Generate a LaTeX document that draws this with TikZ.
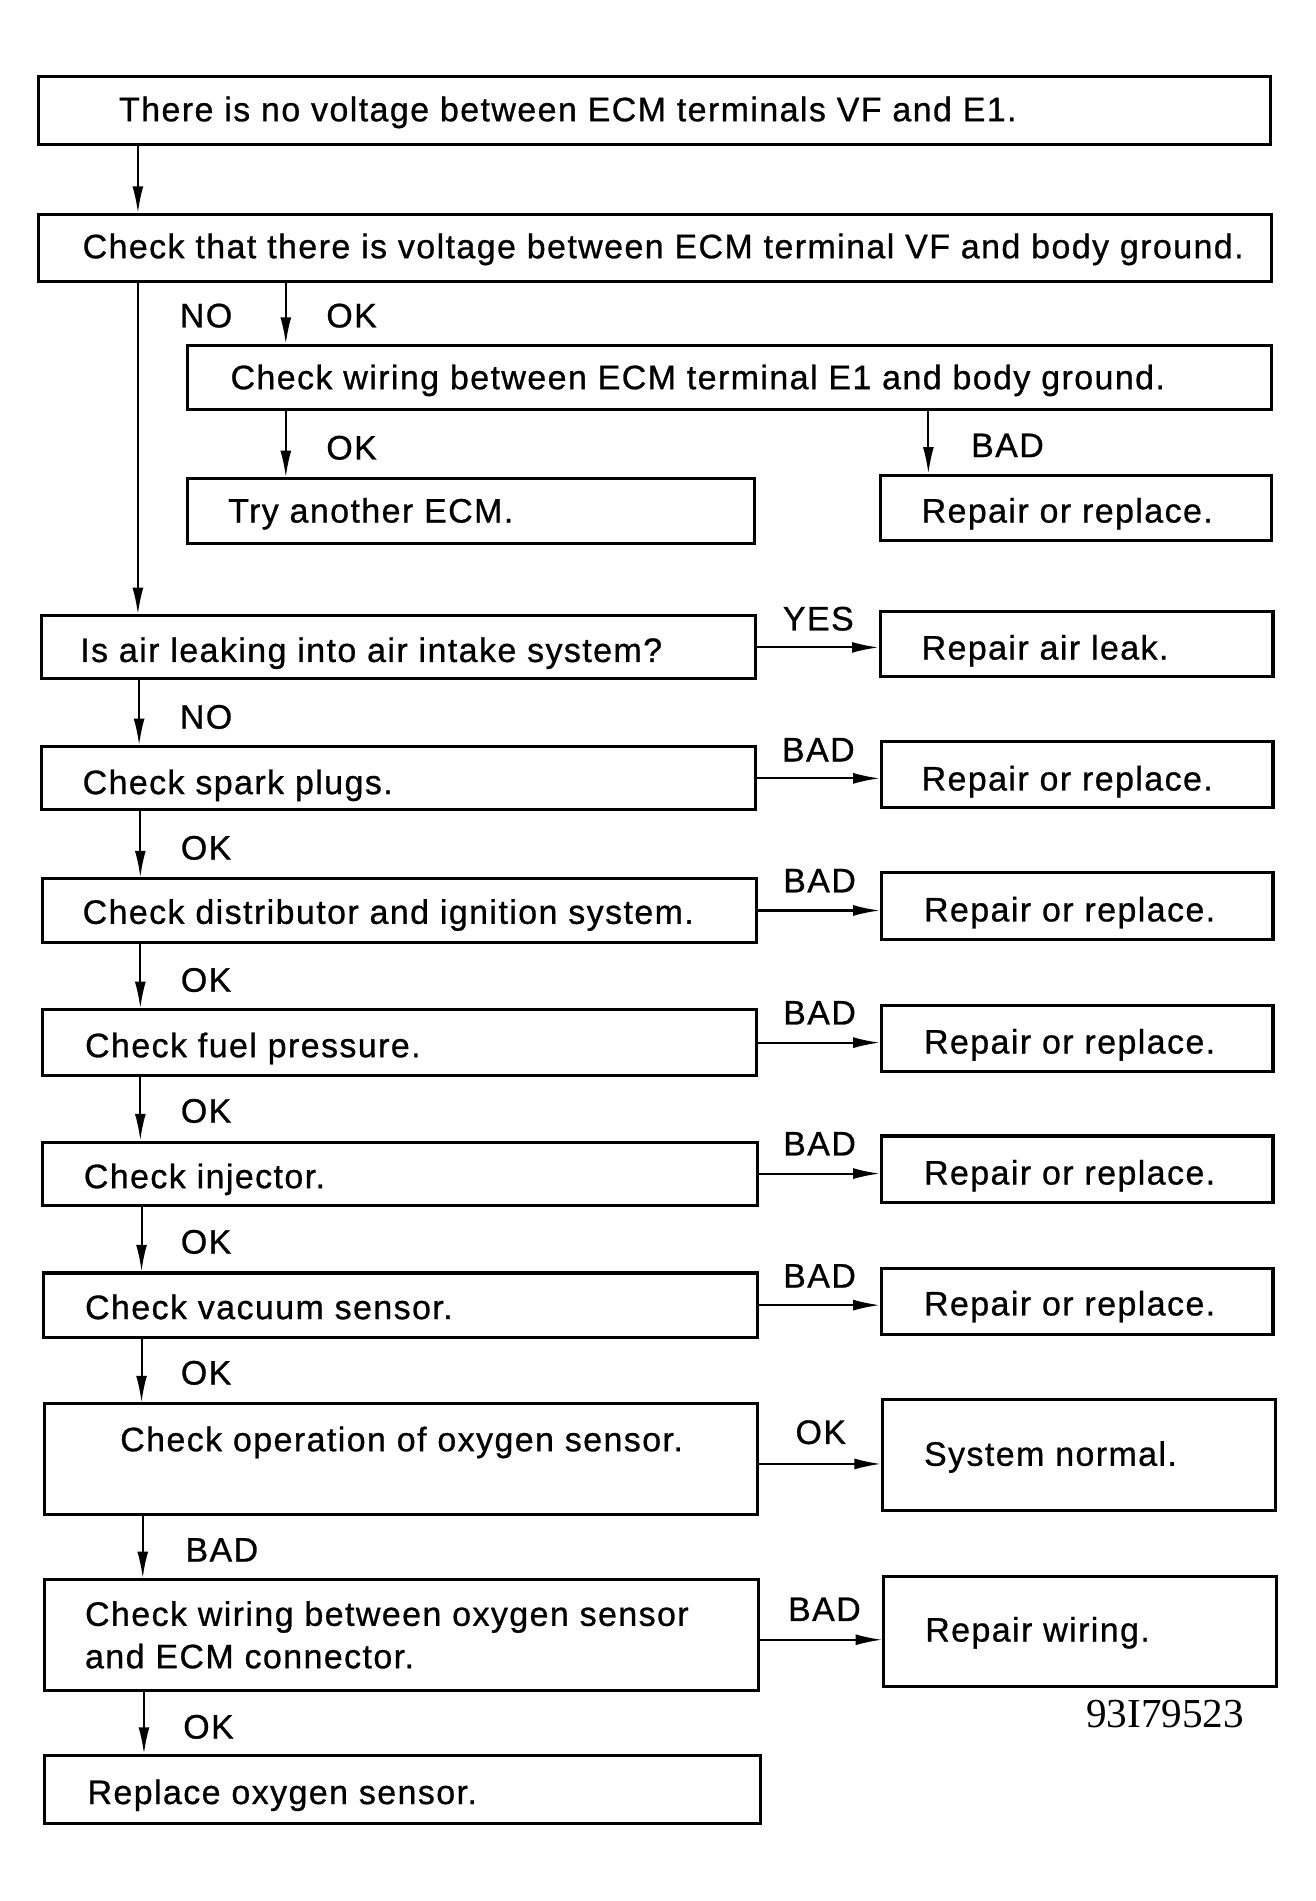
\documentclass[tikz,border=0pt]{standalone}
\usepackage{fontspec}
\setmainfont{Liberation Sans}[LetterSpace=4.2,FakeBold=0.8]
\newfontfamily\codefont{Liberation Serif}
\usetikzlibrary{arrows.meta,calc}
\tikzset{
 box/.style={draw, line width=2.5pt, rectangle, inner sep=0pt},
 txt/.style={anchor=base west, inner sep=0pt, font=\fontsize{28}{34}\selectfont},
 lbl/.style={anchor=base, inner sep=0pt, font=\fontsize{28}{34}\selectfont},
 arr/.style={line width=1.7pt, -{Latex[length=22pt,width=9pt]}},
}
\newcommand{\BX}[8]{%
 \pgfmathsetmacro{\BXw}{#4-#2}\pgfmathsetmacro{\BXh}{#5-#3}%
 \node[box, minimum width=\BXw pt, minimum height=\BXh pt] (#1) at ({(#2+#4)/2},{(#3+#5)/2}) {};
 \node[txt] (#1t) at (#6,#7) {#8};}
\begin{document}
\begin{tikzpicture}[x=1pt,y=-1pt]
\fill[white] (0,0) rectangle (1085,1568);
\useasboundingbox (0,0) rectangle (1085,1568);
% boxes
\BX{b1}{32}{63}{1048}{119}{98}{100}{There is no voltage between ECM terminals VF and E1.}
\BX{b2}{32}{177}{1049}{232}{68}{213}{Check that there is voltage between ECM terminal VF and body ground.}
\BX{b3}{155}{285}{1049}{338}{190}{321}{Check wiring between ECM terminal E1 and body ground.}
\BX{b4}{155}{395}{622}{448}{188}{431}{Try another ECM.}
\BX{r1}{726}{392}{1049}{446}{760}{431}{Repair or replace.}
\BX{b5}{34}{508}{623}{560}{66}{546}{Is air leaking into air intake system?}
\BX{r2}{726}{504}{1050}{558}{760}{544}{Repair air leak.}
\BX{b6}{34}{616}{623}{668}{68}{655}{Check spark plugs.}
\BX{r3}{727}{612}{1050}{666}{760}{652}{Repair or replace.}
\BX{b7}{35}{725}{624}{777}{68}{762}{Check distributor and ignition system.}
\BX{r4}{727}{720}{1050}{775}{762}{760}{Repair or replace.}
\BX{b8}{35}{833}{624}{887}{70}{872}{Check fuel pressure.}
\BX{r5}{727}{829}{1050}{884}{762}{869}{Repair or replace.}
\BX{b9}{35}{942}{625}{994}{69}{980}{Check injector.}
\BX{r6}{727}{937}{1050}{992}{762}{977}{Repair or replace.}
\BX{b10}{36}{1050}{625}{1103}{70}{1088}{Check vacuum sensor.}
\BX{r7}{727}{1046}{1050}{1101}{762}{1085}{Repair or replace.}
\BX{b11}{37}{1158}{625}{1249}{99}{1197}{Check operation of oxygen sensor.}
\BX{r8}{728}{1154}{1052}{1246}{762}{1209}{System normal.}
\BX{b12}{37}{1303}{626}{1394}{70}{1341}{Check wiring between oxygen sensor}
\node[txt] (b12u) at (70,1376) {and ECM connector.};
\BX{r9}{729}{1300}{1053}{1391}{763}{1354}{Repair wiring.}
\BX{b13}{37}{1448}{627}{1504}{72}{1488}{Replace oxygen sensor.}
% vertical connectors
\draw[arr] ($(b1.south west)+(83,0)$) coordinate (v1) -- (v1 |- b2.north);
\draw[arr] ($(b2.south west)+(83,0)$) coordinate (v2) -- (v2 |- b5.north);
\draw[arr] ($(b2.south west)+(205,0)$) coordinate (v3) -- (v3 |- b3.north);
\draw[arr] ($(b3.south west)+(82,0)$) coordinate (v4) -- (v4 |- b4.north);
\draw[arr] ($(b3.south west)+(612,0)$) coordinate (v5) -- (v5 |- r1.north);
\draw[arr] ($(b5.south west)+(82,0)$) coordinate (v6) -- (v6 |- b6.north);
\draw[arr] ($(b6.south west)+(83,0)$) coordinate (v7) -- (v7 |- b7.north);
\draw[arr] ($(b7.south west)+(82,0)$) coordinate (v8) -- (v8 |- b8.north);
\draw[arr] ($(b8.south west)+(82,0)$) coordinate (v9) -- (v9 |- b9.north);
\draw[arr] ($(b9.south west)+(83,0)$) coordinate (v10) -- (v10 |- b10.north);
\draw[arr] ($(b10.south west)+(82,0)$) coordinate (v11) -- (v11 |- b11.north);
\draw[arr] ($(b11.south west)+(82,0)$) coordinate (v12) -- (v12 |- b12.north);
\draw[arr] ($(b12.south west)+(83,0)$) coordinate (v13) -- (v13 |- b13.north);
% horizontal connectors
\draw[arr] (b5.east) -- (r2.west |- b5.east);
\draw[arr] (b6.east) -- (r3.west |- b6.east);
\draw[arr] (b7.east) -- (r4.west |- b7.east);
\draw[arr] (b8.east) -- (r5.west |- b8.east);
\draw[arr] (b9.east) -- (r6.west |- b9.east);
\draw[arr] (b10.east) -- (r7.west |- b10.east);
\draw[arr] ($(b11.east)+(0,4)$) coordinate (h1) -- (r8.west |- h1);
\draw[arr] ($(b12.east)+(0,4)$) coordinate (h2) -- (r9.west |- h2);
% labels
\node[lbl] (l1) at (170,270) {NO};
\node[lbl] (l2) at (290,270) {OK};
\node[lbl] (l3) at (290,379) {OK};
\node[lbl] (l4) at (831,377) {BAD};
\node[lbl] (l5) at (675,520) {YES};
\node[lbl] (l6) at (170,601) {NO};
\node[lbl] (l7) at (675,628) {BAD};
\node[lbl] (l8) at (170,709) {OK};
\node[lbl] (l9) at (676,736) {BAD};
\node[lbl] (l10) at (170,818) {OK};
\node[lbl] (l11) at (676,845) {BAD};
\node[lbl] (l12) at (170,926) {OK};
\node[lbl] (l13) at (676,953) {BAD};
\node[lbl] (l14) at (170,1034) {OK};
\node[lbl] (l15) at (676,1062) {BAD};
\node[lbl] (l16) at (170,1142) {OK};
\node[lbl] (l17) at (677,1191) {OK};
\node[lbl] (l18) at (183,1288) {BAD};
\node[lbl] (l19) at (680,1337) {BAD};
\node[lbl] (l20) at (172,1434) {OK};
\node[anchor=base, inner sep=0pt, font=\codefont\fontsize{34}{40}\selectfont] (code) at (961,1425) {93I79523};
\end{tikzpicture}
\end{document}
